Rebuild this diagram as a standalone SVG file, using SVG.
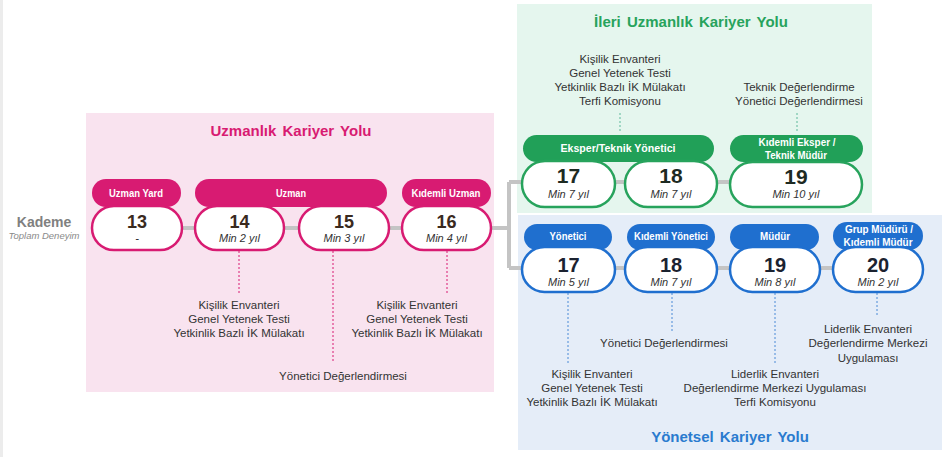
<svg xmlns="http://www.w3.org/2000/svg" width="943" height="457" viewBox="0 0 943 457">
<style>
text{font-family:"Liberation Sans",Arial,sans-serif}
.t{font-size:11.5px;fill:#333;text-anchor:middle}
.hd{font-size:11px;font-weight:bold;fill:#fff;text-anchor:middle}
.num{font-weight:bold;text-anchor:middle}
.min{font-size:11px;font-style:italic;fill:#333;text-anchor:middle}
.ttl{font-size:15px;font-weight:bold;text-anchor:middle;word-spacing:2px}
.pp{fill:#fff;stroke:#d81b72;stroke-width:2.5}
.gp{fill:#fff;stroke:#27a35c;stroke-width:2.5}
.bp{fill:#fff;stroke:#1f6fcf;stroke-width:2.5}
.ph{fill:#d81b72}
.gh{fill:#21a058}
.bh{fill:#1f6fcf}
.conn{stroke:#c4c4c4;stroke-width:4;fill:none}
.dp{stroke:#d81b72;stroke-width:1;stroke-dasharray:2 2}
.dg{stroke:#5cb89a;stroke-width:1;stroke-dasharray:2 2}
.db{stroke:#4a8ad6;stroke-width:1;stroke-dasharray:2 2}
</style>
<rect x="0" y="0" width="943" height="457" fill="#fff"/>
<rect x="0" y="0" width="3" height="457" fill="#ececec"/>
<g id="panels">
<rect x="86" y="113" width="408" height="279" fill="#f9e3ef"/>
<rect x="517" y="4" width="355" height="209" fill="#e5f6ee"/>
<rect x="518" y="215" width="424" height="235" fill="#e5edf8"/>
<text class="ttl" x="291" y="136" fill="#d81b72">Uzmanlık Kariyer Yolu</text>
<text class="ttl" x="691" y="27" fill="#27a35c">İleri Uzmanlık Kariyer Yolu</text>
<text class="ttl" x="730" y="442" fill="#2a7bcf">Yönetsel Kariyer Yolu</text>
</g>
<g id="kademe">
<text x="44" y="227" font-size="14" font-weight="bold" fill="#808080" text-anchor="middle">Kademe</text>
<text x="44" y="239" font-size="9.5" font-style="italic" fill="#8a8a8a" text-anchor="middle">Toplam Deneyim</text>
</g>
<g id="connectors">
<path class="conn" d="M182 228H509M509 182V268M509 182H730M509 268H833"/>
<line class="dp" x1="239" y1="251" x2="239" y2="293"/>
<line class="dp" x1="333" y1="251" x2="333" y2="363"/>
<line class="dp" x1="447" y1="251" x2="447" y2="293"/>
<line class="dg" x1="620" y1="113" x2="620" y2="133"/>
<line class="dg" x1="797" y1="113" x2="797" y2="133"/>
<line class="db" x1="568" y1="293" x2="568" y2="363"/>
<line class="db" x1="672" y1="293" x2="672" y2="333"/>
<line class="db" x1="775" y1="293" x2="775" y2="363"/>
<line class="db" x1="877" y1="293" x2="877" y2="317"/>
</g>
<g id="n13">
<rect class="ph" x="92" y="179" width="89" height="28" rx="14"/>
<text class="hd" x="136" y="197" textLength="54" lengthAdjust="spacingAndGlyphs">Uzman Yard</text>
<rect class="pp" x="92" y="206" width="90" height="44" rx="22"/>
<text class="num" x="137" y="228" font-size="18" fill="#3a2a1e">13</text>
<text class="min" x="137" y="242">-</text>
</g>
<g id="uzman">
<rect class="ph" x="195" y="179" width="192" height="28" rx="14"/>
<text class="hd" x="291" y="197" textLength="30" lengthAdjust="spacingAndGlyphs">Uzman</text>
</g>
<g id="n14">
<rect class="pp" x="195" y="206" width="89" height="44" rx="22"/>
<text class="num" x="239.5" y="228" font-size="18" fill="#3a2a1e">14</text>
<text class="min" x="239.5" y="242">Min 2 yıl</text>
</g>
<g id="n15">
<rect class="pp" x="299" y="206" width="90" height="44" rx="22"/>
<text class="num" x="344" y="228" font-size="18" fill="#3a2a1e">15</text>
<text class="min" x="344" y="242">Min 3 yıl</text>
</g>
<g id="n16">
<rect class="ph" x="402" y="179" width="89" height="28" rx="14"/>
<text class="hd" x="446" y="197" textLength="69" lengthAdjust="spacingAndGlyphs">Kıdemli Uzman</text>
<rect class="pp" x="402" y="206" width="89" height="44" rx="22"/>
<text class="num" x="446.5" y="228" font-size="18" fill="#3a2a1e">16</text>
<text class="min" x="446.5" y="242">Min 4 yıl</text>
</g>
<g id="pink-notes">
<text class="t" x="239" y="309">Kişilik Envanteri</text>
<text class="t" x="239" y="323">Genel Yetenek Testi</text>
<text class="t" x="239" y="337">Yetkinlik Bazlı İK Mülakatı</text>
<text class="t" x="417" y="309">Kişilik Envanteri</text>
<text class="t" x="417" y="323">Genel Yetenek Testi</text>
<text class="t" x="417" y="337">Yetkinlik Bazlı İK Mülakatı</text>
<text class="t" x="343" y="380">Yönetici Değerlendirmesi</text>
</g>
<g id="eksper">
<rect class="gh" x="523" y="135" width="191" height="27" rx="13.5"/>
<text class="hd" x="618" y="152" textLength="115" lengthAdjust="spacingAndGlyphs">Eksper/Teknik Yönetici</text>
</g>
<g id="g17">
<rect class="gp" x="522" y="161" width="93" height="46" rx="23"/>
<text class="num" x="568.5" y="183" font-size="21" fill="#1d2a22">17</text>
<text class="min" x="568.5" y="198">Min 7 yıl</text>
</g>
<g id="g18">
<rect class="gp" x="625" y="161" width="92" height="46" rx="23"/>
<text class="num" x="671" y="183" font-size="21" fill="#1d2a22">18</text>
<text class="min" x="671" y="198">Min 7 yıl</text>
</g>
<g id="g19">
<rect class="gh" x="730" y="135" width="133" height="27" rx="13.5"/>
<text class="hd" x="797" y="146" textLength="77" lengthAdjust="spacingAndGlyphs">Kıdemli Eksper /</text>
<text class="hd" x="796" y="159" textLength="62" lengthAdjust="spacingAndGlyphs">Teknik Müdür</text>
<rect class="gp" x="730" y="162" width="132" height="45" rx="22.5"/>
<text class="num" x="796" y="184" font-size="21" fill="#1d2a22">19</text>
<text class="min" x="796" y="198">Min 10 yıl</text>
</g>
<g id="green-notes">
<text class="t" x="620" y="63">Kişilik Envanteri</text>
<text class="t" x="620" y="77">Genel Yetenek Testi</text>
<text class="t" x="620" y="91">Yetkinlik Bazlı İK Mülakatı</text>
<text class="t" x="620" y="105">Terfi Komisyonu</text>
<text class="t" x="799" y="91">Teknik Değerlendirme</text>
<text class="t" x="799" y="105">Yönetici Değerlendirmesi</text>
</g>
<g id="b17">
<rect class="bh" x="524" y="224" width="88" height="26" rx="13"/>
<text class="hd" x="568" y="240" textLength="37" lengthAdjust="spacingAndGlyphs">Yönetici</text>
<rect class="bp" x="522" y="247" width="93" height="45" rx="22.5"/>
<text class="num" x="568.5" y="272" font-size="20" fill="#1b2230">17</text>
<text class="min" x="568.5" y="286">Min 5 yıl</text>
</g>
<g id="b18">
<rect class="bh" x="627" y="224" width="88" height="26" rx="13"/>
<text class="hd" x="671" y="240" textLength="74" lengthAdjust="spacingAndGlyphs">Kıdemli Yönetici</text>
<rect class="bp" x="625" y="247" width="92" height="45" rx="22.5"/>
<text class="num" x="671" y="272" font-size="20" fill="#1b2230">18</text>
<text class="min" x="671" y="286">Min 7 yıl</text>
</g>
<g id="b19">
<rect class="bh" x="730" y="224" width="89" height="26" rx="13"/>
<text class="hd" x="775" y="240" textLength="30" lengthAdjust="spacingAndGlyphs">Müdür</text>
<rect class="bp" x="730" y="247" width="90" height="45" rx="22.5"/>
<text class="num" x="775" y="272" font-size="20" fill="#1b2230">19</text>
<text class="min" x="775" y="286">Min 8 yıl</text>
</g>
<g id="b20">
<rect class="bh" x="833" y="222" width="90" height="28" rx="14"/>
<text class="hd" x="879" y="233" textLength="68" lengthAdjust="spacingAndGlyphs">Grup Müdürü /</text>
<text class="hd" x="878" y="246" textLength="69" lengthAdjust="spacingAndGlyphs">Kıdemli Müdür</text>
<rect class="bp" x="833" y="247" width="90" height="45" rx="22.5"/>
<text class="num" x="878" y="272" font-size="20" fill="#1b2230">20</text>
<text class="min" x="878" y="286">Min 2 yıl</text>
</g>
<g id="blue-notes">
<text class="t" x="592" y="378">Kişilik Envanteri</text>
<text class="t" x="592" y="392">Genel Yetenek Testi</text>
<text class="t" x="592" y="406">Yetkinlik Bazlı İK Mülakatı</text>
<text class="t" x="664" y="347">Yönetici Değerlendirmesi</text>
<text class="t" x="775" y="378">Liderlik Envanteri</text>
<text class="t" x="775" y="392">Değerlendirme Merkezi Uygulaması</text>
<text class="t" x="775" y="406">Terfi Komisyonu</text>
<text class="t" x="868" y="333">Liderlik Envanteri</text>
<text class="t" x="868" y="347">Değerlendirme Merkezi</text>
<text class="t" x="868" y="362">Uygulaması</text>
</g>
</svg>
